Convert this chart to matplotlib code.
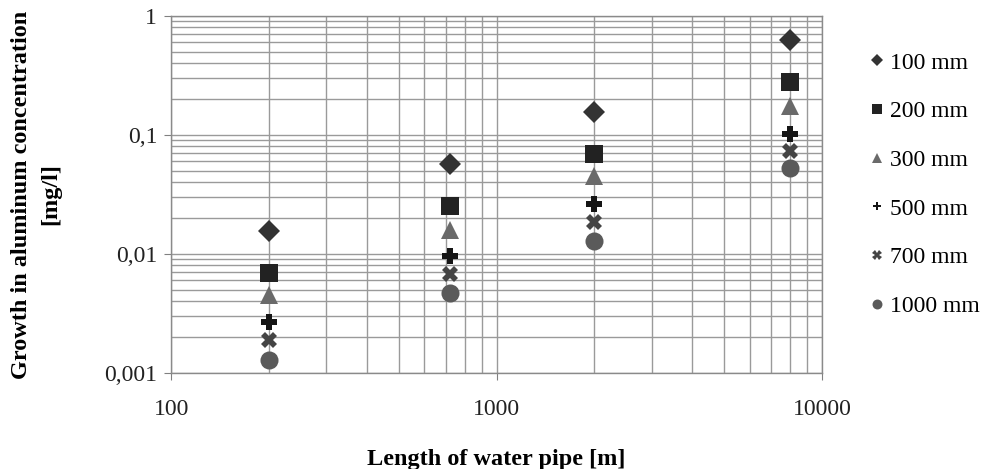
import matplotlib
matplotlib.use("Agg")
import matplotlib.pyplot as plt
from matplotlib.ticker import LogLocator, FixedLocator, NullFormatter

plt.rcParams['font.family'] = ['Liberation Serif', 'DejaVu Serif']

# pipe lengths [m]
lengths = [200, 720, 2000, 8000]

# growth in aluminium concentration [mg/l] per pipe diameter
series_names = ['100 mm', '200 mm', '300 mm', '500 mm', '700 mm', '1000 mm']
d100 = [0.0157, 0.057, 0.155, 0.63]
d200 = [0.0069, 0.0255, 0.0697, 0.277]
d300 = [0.00455, 0.016, 0.045, 0.176]
d500 = [0.00267, 0.0096, 0.0263, 0.1026]
d700 = [0.00188, 0.0068, 0.0184, 0.073]
d1000 = [0.00128, 0.0047, 0.0128, 0.053]

y_ticks = [0.001, 0.01, 0.1, 1]
y_tick_labels = ['0,001', '0,01', '0,1', '1']
x_ticks = [100, 1000, 10000]
x_tick_labels = ['100', '1000', '10000']

styles = [
    ('D', '#333333', 11),
    ('s', '#222222', 13.5),
    ('^', '#6a6a6a', 13),
    ('P', '#151515', 11),
    ('X', '#444444', 12),
    ('o', '#5a5a5a', 13),
]

fig = plt.figure(figsize=(9.95, 4.69), dpi=100)
ax = fig.add_axes([0.172, 0.205, 0.654, 0.761])

all_series = [d100, d200, d300, d500, d700, d1000]
for vals, name, (mk, col, ms) in zip(all_series, series_names, styles):
    ax.plot(lengths, vals, linestyle='none', marker=mk, color=col,
            markersize=ms, markeredgewidth=0, label=name, zorder=3)

ax.set_xscale('log')
ax.set_yscale('log')
ax.set_xlim(100, 10000)
ax.set_ylim(0.001, 1)

ax.xaxis.set_major_locator(FixedLocator(x_ticks))
ax.set_xticklabels(x_tick_labels)
ax.yaxis.set_major_locator(FixedLocator(y_ticks))
ax.set_yticklabels(y_tick_labels)
ax.xaxis.set_minor_locator(LogLocator(base=10, subs=range(2, 10)))
ax.yaxis.set_minor_locator(LogLocator(base=10, subs=range(2, 10)))
ax.xaxis.set_minor_formatter(NullFormatter())
ax.yaxis.set_minor_formatter(NullFormatter())

ax.grid(True, which='both', color='#9a9a9a', linewidth=1.0)
ax.set_axisbelow(True)
for sp in ax.spines.values():
    sp.set_color('#8a8a8a')
    sp.set_linewidth(1.0)
ax.tick_params(which='major', length=5, color='#808080', labelsize=17,
               labelcolor='#222222')
ax.tick_params(axis='x', which='major', pad=14)
ax.tick_params(axis='y', which='major', pad=5)
ax.tick_params(which='minor', length=0)

ax.set_xlabel('Length of water pipe [m]', fontsize=17.5, fontweight='bold',
              labelpad=21)
ax.set_ylabel('Growth in aluminum concentration\n[mg/l]', fontsize=17.5,
              fontweight='bold', labelpad=31, linespacing=1.5)

leg = ax.legend(loc='upper left', bbox_to_anchor=(1.06, 0.925), frameon=False,
                fontsize=17, markerscale=0.55, handlelength=0.6,
                handletextpad=0.25, labelspacing=1.15, borderaxespad=0)

fig.savefig('out.png', dpi=100)
